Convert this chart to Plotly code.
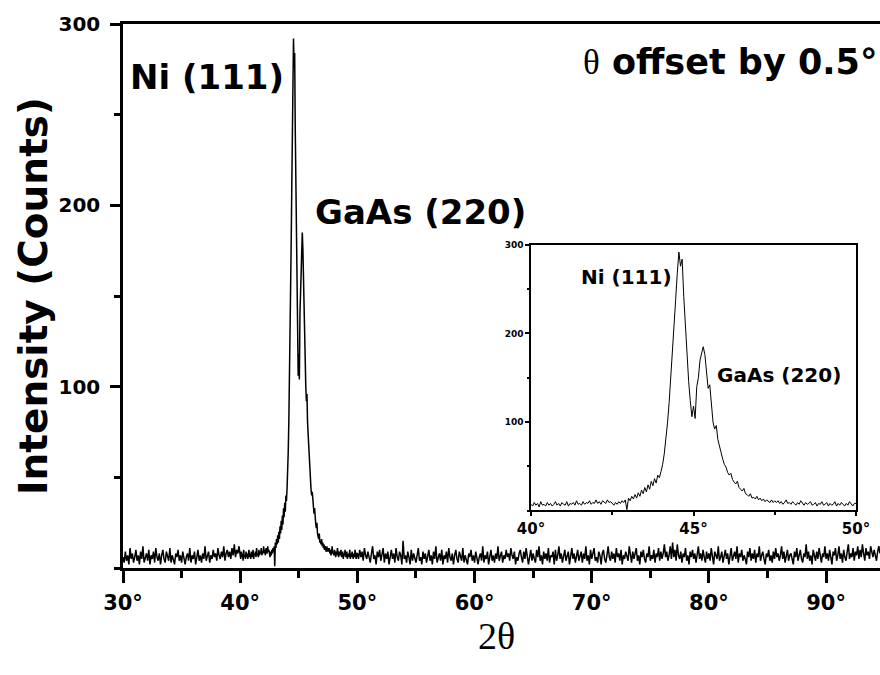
import plotly.graph_objects as go

# ---------------- data ----------------
# segment A: 2theta 30.0 .. 39.9, step 0.1
start_a, step_a = 30.0, 0.1
counts_a = [
    6, 3, 9, 4, 7, 2, 11, 5, 8, 3,
    6, 10, 4, 7, 2, 9, 5, 12, 3, 6,
    8, 4, 10, 2, 7, 5, 9, 3, 11, 6,
    4, 8, 2, 7, 10, 5, 3, 9, 6, 4,
    11, 3, 7, 5, 2, 8, 6, 10, 4, 7,
    3, 9, 5, 2, 6, 8, 4, 11, 3, 7,
    5, 9, 2, 6, 10, 4, 7, 3, 8, 5,
    12, 4, 6, 9, 3, 7, 5, 10, 6, 8,
    4, 11, 7, 5, 9, 6, 12, 4, 8, 10,
    6, 9, 5, 11, 7, 13, 6, 10, 8, 12,
]
# segment B: 2theta 40.00 .. 49.95, step 0.05 (peak region, also the inset)
start_b, step_b = 40.0, 0.05
counts_b = [
    7, 5, 9, 6, 8, 4, 10, 6, 7, 5,
    9, 6, 8, 5, 7, 10, 6, 8, 5, 9,
    7, 6, 10, 5, 8, 7, 9, 6, 11, 7,
    8, 6, 10, 7, 9, 8, 11, 7, 9, 8,
    12, 8, 10, 7, 11, 9, 8, 12, 9, 10,
    8, 6, 9, 7, 10, 8, 11, 9, 12, 1,
    14, 11, 16, 13, 18, 14, 20, 16, 23, 19,
    26, 21, 29, 24, 33, 28, 36, 31, 40, 37,
    44, 52, 64, 80, 99, 122, 148, 178, 208, 238,
    268, 292, 276, 284, 242, 207, 172, 146, 124, 106,
    118, 104, 140, 150, 170, 178, 185, 176, 158, 138,
    142, 118, 100, 92, 96, 80, 72, 66, 58, 52,
    49, 43, 40, 42, 35, 32, 30, 33, 26, 24,
    22, 25, 19, 18, 16, 19, 14, 15, 13, 16,
    12, 14, 11, 13, 10, 12, 10, 9, 12, 9,
    11, 9, 11, 8, 10, 7, 9, 12, 8, 9,
    7, 10, 8, 6, 9, 7, 11, 8, 6, 9,
    7, 8, 10, 6, 7, 9, 5, 8, 7, 10,
    6, 7, 9, 5, 8, 6, 7, 10, 5, 8,
    6, 9, 7, 5, 8, 6, 10, 7, 5, 8,
]
# segment C: 2theta 50.0 .. 94.6, step 0.1
start_c, step_c = 50.0, 0.1
counts_c = [
    8, 5, 10, 6, 9, 4, 11, 7, 5, 9,
    6, 3, 8, 12, 5, 7, 2, 9, 6, 10,
    4, 7, 11, 3, 8, 5, 9, 2, 6, 10,
    5, 8, 3, 11, 6, 4, 9, 7, 2, 15,
    5, 7, 3, 9, 6, 2, 10, 4, 8, 5,
    3, 7, 11, 4, 6, 2, 9, 5, 8, 3,
    6, 10, 4, 7, 2, 9, 5, 12, 3, 6,
    8, 4, 10, 2, 7, 5, 9, 3, 11, 6,
    4, 8, 2, 7, 10, 5, 3, 9, 6, 4,
    11, 3, 7, 5, 2, 8, 6, 10, 4, 7,
    3, 9, 5, 2, 6, 8, 4, 12, 3, 7,
    5, 9, 2, 6, 10, 4, 7, 3, 8, 5,
    12, 4, 6, 9, 3, 7, 5, 10, 6, 8,
    4, 11, 7, 5, 9, 2, 6, 4, 8, 10,
    6, 3, 9, 5, 11, 7, 2, 6, 10, 4,
    8, 5, 3, 10, 6, 12, 4, 7, 2, 9,
    5, 8, 4, 11, 3, 7, 6, 9, 2, 10,
    4, 7, 12, 5, 8, 3, 6, 10, 4, 7,
    9, 2, 6, 11, 5, 8, 3, 7, 10, 4,
    6, 9, 3, 8, 5, 12, 4, 7, 2, 10,
    5, 8, 11, 4, 6, 3, 9, 7, 2, 8,
    10, 5, 3, 7, 12, 6, 4, 9, 5, 8,
    3, 11, 6, 8, 4, 10, 2, 7, 5, 9,
    6, 4, 12, 7, 3, 9, 5, 8, 11, 4,
    7, 2, 9, 6, 10, 5, 3, 8, 6, 12,
    4, 7, 5, 10, 3, 8, 6, 11, 4, 9,
    5, 8, 13, 6, 9, 4, 7, 12, 5, 14,
    6, 10, 4, 13, 7, 5, 9, 3, 8, 6,
    11, 4, 7, 2, 9, 6, 10, 5, 8, 3,
    7, 12, 5, 8, 4, 10, 6, 3, 9, 5,
    8, 4, 11, 6, 2, 9, 7, 5, 12, 4,
    6, 9, 3, 7, 10, 5, 8, 2, 6, 11,
    4, 7, 9, 5, 12, 3, 8, 6, 10, 4,
    7, 5, 2, 9, 6, 11, 4, 8, 5, 10,
    3, 8, 6, 12, 4, 7, 9, 5, 2, 8,
    6, 10, 4, 7, 3, 9, 5, 11, 6, 8,
    4, 7, 12, 5, 9, 3, 6, 10, 4, 7,
    8, 5, 2, 9, 6, 11, 4, 7, 10, 5,
    3, 8, 6, 13, 5, 9, 4, 7, 2, 10,
    6, 4, 9, 5, 11, 7, 3, 8, 6, 12,
    5, 8, 4, 10, 6, 2, 9, 7, 11, 4,
    7, 12, 5, 8, 3, 10, 6, 4, 9, 13,
    5, 8, 6, 11, 4, 9, 7, 12, 5, 10,
    6, 13, 8, 4, 11, 7, 9, 5, 12, 8,
    6, 10, 7, 4, 9, 12, 8,
]

main_xticks = [30, 40, 50, 60, 70, 80, 90]
main_xlabels = ["30°", "40°", "50°", "60°", "70°", "80°", "90°"]
main_yticks = [100, 200, 300]
main_ylabels = ["100", "200", "300"]
inset_xticks = [40, 45, 50]
inset_xlabels = ["40°", "45°", "50°"]
inset_yticks = [100, 200, 300]
inset_ylabels = ["100", "200", "300"]

# ---------------- assemble scan ----------------
two_theta, counts = [], []
for start, step, seg in ((start_a, step_a, counts_a),
                         (start_b, step_b, counts_b),
                         (start_c, step_c, counts_c)):
    for i, v in enumerate(seg):
        two_theta.append(round(start + step * i, 3))
        counts.append(v)

SANS = "DejaVu Sans"
SERIF = "Liberation Serif"

fig = go.Figure()
fig.add_trace(go.Scatter(x=two_theta, y=counts, mode="lines",
                         line=dict(color="black", width=1.5),
                         xaxis="x", yaxis="y", showlegend=False, hoverinfo="skip"))
fig.add_trace(go.Scatter(x=two_theta, y=counts, mode="lines",
                         line=dict(color="black", width=1),
                         xaxis="x2", yaxis="y2", showlegend=False, hoverinfo="skip"))

fig.update_layout(
    width=880, height=675, autosize=False,
    margin=dict(l=123, r=0, t=24, b=107, pad=0, autoexpand=False),
    paper_bgcolor="white", plot_bgcolor="white",
    showlegend=False,
    xaxis=dict(domain=[0, 1], anchor="y", range=[30, 94.6], automargin=False,
               tickmode="array", tickvals=main_xticks, ticktext=main_xlabels,
               showline=True, linecolor="black", linewidth=2.5, mirror=True,
               ticks="outside", ticklen=12, tickwidth=2.5, tickcolor="black",
               minor=dict(dtick=5, ticks="outside", ticklen=7, tickwidth=2.5, tickcolor="black"),
               showgrid=False, zeroline=False, ticklabelstandoff=2,
               tickfont=dict(family=SANS, size=21, color="black", weight="bold")),
    yaxis=dict(domain=[0, 1], anchor="x", range=[0, 300], automargin=False,
               tickmode="array", tickvals=main_yticks, ticktext=main_ylabels,
               showline=True, linecolor="black", linewidth=2.5, mirror=False,
               ticks="outside", ticklen=10, tickwidth=2.5, tickcolor="black",
               minor=dict(dtick=50, ticks="outside", ticklen=6, tickwidth=2.5, tickcolor="black"),
               showgrid=False, zeroline=False, ticklabelstandoff=6,
               tickfont=dict(family=SANS, size=20, color="black", weight="bold")),
    xaxis2=dict(domain=[0.539, 0.9683], anchor="y2", range=[40, 50], automargin=False,
                tickmode="array", tickvals=inset_xticks, ticktext=inset_xlabels,
                showline=True, linecolor="black", linewidth=1.5, mirror=True,
                ticks="outside", ticklen=4, tickwidth=1.5, tickcolor="black",
                minor=dict(dtick=2.5, ticks="outside", ticklen=3, tickwidth=1.5, tickcolor="black"),
                showgrid=False, zeroline=False,
                tickfont=dict(family=SANS, size=15, color="black", weight="bold")),
    yaxis2=dict(domain=[0.1057, 0.5938], anchor="x2", range=[0, 300], automargin=False,
                tickmode="array", tickvals=inset_yticks, ticktext=inset_ylabels,
                showline=True, linecolor="black", linewidth=1.5, mirror=True,
                ticks="outside", ticklen=4, tickwidth=1.5, tickcolor="black",
                minor=dict(dtick=50, ticks="outside", ticklen=2, tickwidth=1.5, tickcolor="black"),
                showgrid=False, zeroline=False,
                tickfont=dict(family=SANS, size=9, color="black", weight="bold")),
)

big = dict(family=SANS, size=34, color="black", weight="bold")
small = dict(family=SANS, size=20, color="black", weight="bold")
annots = [
    dict(text="Ni (111)", x=37.17, y=270.8, xref="x", yref="y", font=big),
    dict(text="GaAs (220)", x=55.35, y=196.3, xref="x", yref="y", font=big),
    dict(text='<span style="font-family:\'Liberation Serif\';font-weight:normal">θ</span> offset by 0.5°',
         x=81.8, y=279, xref="x", yref="y",
         font=dict(family=SANS, size=35, color="black", weight="bold")),
    dict(text="Ni (111)", x=42.95, y=263.8, xref="x2", yref="y2", font=small),
    dict(text="GaAs (220)", x=47.63, y=153, xref="x2", yref="y2", font=small),
    dict(text="Intensity (Counts)", x=-0.1189, y=0.5, xref="paper", yref="paper",
         textangle=-90, font=dict(family=SANS, size=39, color="black", weight="bold")),
    dict(text="2θ", x=0.494, y=-0.125, xref="paper", yref="paper",
         font=dict(family=SERIF, size=38, color="black")),
]
for a in annots:
    a.update(showarrow=False, xanchor="center", yanchor="middle")
fig.update_layout(annotations=annots)

fig.write_html("out.html")
